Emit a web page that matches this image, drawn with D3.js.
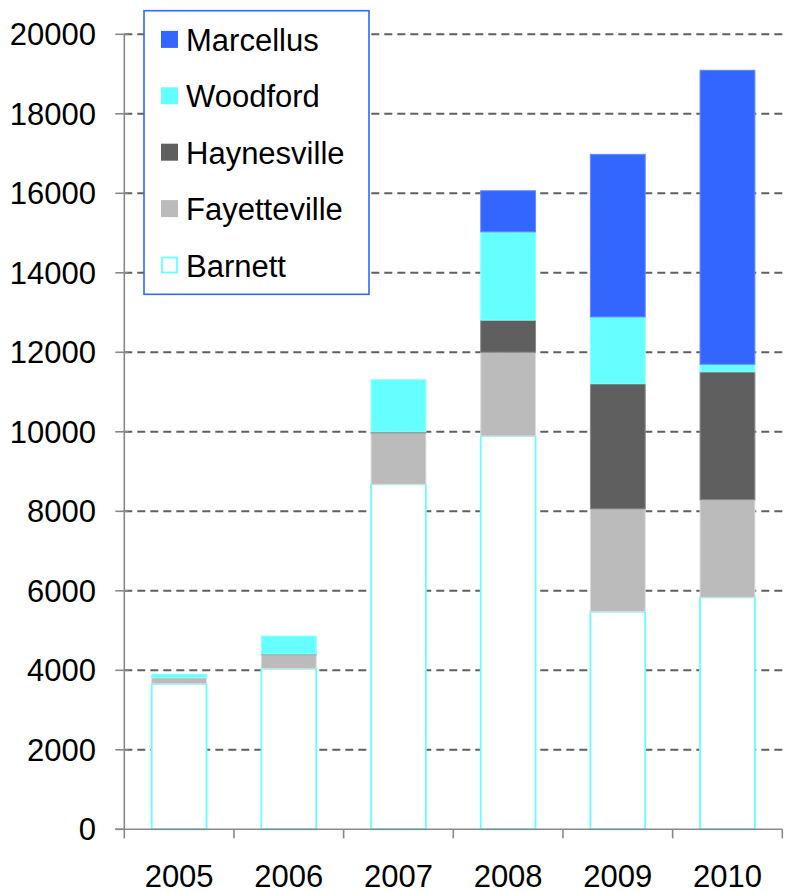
<!DOCTYPE html>
<html><head><meta charset="utf-8">
<script src="https://cdn.jsdelivr.net/npm/d3@7"></script>
<style>html,body{margin:0;padding:0;background:#fff}svg{display:block}</style>
</head><body>
<script>
const years = ["2005","2006","2007","2008","2009","2010"];
const seriesNames = ["Barnett","Fayetteville","Haynesville","Woodford","Marcellus"];
const barnett      = [3660, 4040, 8680, 9895, 5475, 5835];
const fayetteville = [155, 350, 1290, 2105, 2585, 2455];
const haynesville  = [0, 20, 30, 810, 3150, 3220];
const woodford     = [85, 450, 1310, 2220, 1680, 190];
const marcellus    = [0, 0, 0, 1035, 4090, 7395];
const yTicks = [0,2000,4000,6000,8000,10000,12000,14000,16000,18000,20000];

const seriesValues = {Barnett: barnett, Fayetteville: fayetteville, Haynesville: haynesville, Woodford: woodford, Marcellus: marcellus};
const fills = {Barnett:"#ffffff", Fayetteville:"#bbbbbb", Haynesville:"#5f5f5f", Woodford:"#66ffff", Marcellus:"#3366ff"};
const strokes = {Barnett:"#66ffff", Fayetteville:"#dcdcdc", Haynesville:"#8a8a8a", Woodford:"#8cffff", Marcellus:"#6688ff"};
const strokeW = {Barnett:1.8, Fayetteville:1, Haynesville:1, Woodford:1, Marcellus:1};

const W = 788, H = 893;
const x0 = 124.3, x1 = 782.3, yBase = 829.3, yTop = 34.3;
const font = "Arial, 'Liberation Sans', sans-serif";
const fs = 31;

const svg = d3.select("body").append("svg").attr("width", W).attr("height", H);

const x = d3.scaleBand().domain(years).range([x0, x1]).paddingInner(0.5).paddingOuter(0.25);
const y = d3.scaleLinear().domain([0, 20000]).range([yBase, yTop]);

// gridlines
svg.append("g").selectAll("line").data(yTicks.filter(d => d > 0)).join("line")
  .attr("x1", x0).attr("x2", x1)
  .attr("y1", d => y(d)).attr("y2", d => y(d))
  .attr("stroke", "#606060").attr("stroke-width", 2).attr("stroke-dasharray", "8,5");

// stacked bars
const table = years.map((yr, i) => {
  const o = {year: yr};
  seriesNames.forEach(s => o[s] = seriesValues[s][i]);
  return o;
});
const stacked = d3.stack().keys(seriesNames)(table);
svg.append("g").selectAll("g").data(stacked).join("g")
  .each(function(layer) {
    const k = layer.key;
    d3.select(this).selectAll("rect").data(layer.filter(d => d[1] - d[0] > 0)).join("rect")
      .attr("x", d => x(d.data.year))
      .attr("width", x.bandwidth())
      .attr("y", d => y(d[1]))
      .attr("height", d => y(d[0]) - y(d[1]))
      .attr("fill", fills[k])
      .attr("stroke", strokes[k])
      .attr("stroke-width", strokeW[k]);
  });

// y axis
const axisColor = "#888888";
svg.append("line").attr("x1", x0).attr("x2", x0).attr("y1", yTop).attr("y2", yBase)
  .attr("stroke", axisColor).attr("stroke-width", 1.6);
svg.append("g").selectAll("line").data(yTicks).join("line")
  .attr("x1", x0 - 9).attr("x2", d => d === 0 ? x0 : x0 + 4)
  .attr("y1", d => y(d)).attr("y2", d => y(d))
  .attr("stroke", axisColor).attr("stroke-width", 1.6);
svg.append("g").selectAll("text").data(yTicks).join("text")
  .attr("x", 96).attr("y", d => y(d) + 11)
  .attr("text-anchor", "end")
  .attr("font-family", font).attr("font-size", fs).attr("fill", "#000")
  .text(d => d);

// x axis
svg.append("line").attr("x1", x0 - 9).attr("x2", x1).attr("y1", yBase).attr("y2", yBase)
  .attr("stroke", axisColor).attr("stroke-width", 1.6);
const step = x.step();
svg.append("g").selectAll("line").data(d3.range(years.length + 1)).join("line")
  .attr("x1", i => x0 + i * step).attr("x2", i => x0 + i * step)
  .attr("y1", yBase).attr("y2", yBase + 9)
  .attr("stroke", axisColor).attr("stroke-width", 1.6);
svg.append("g").selectAll("text").data(years).join("text")
  .attr("x", d => x(d) + x.bandwidth() / 2).attr("y", 887)
  .attr("text-anchor", "middle")
  .attr("font-family", font).attr("font-size", fs).attr("fill", "#000")
  .text(d => d);

// legend
const legendOrder = ["Marcellus","Woodford","Haynesville","Fayetteville","Barnett"];
const lg = svg.append("g");
lg.append("rect").attr("x", 144).attr("y", 10.7).attr("width", 225).attr("height", 283.6)
  .attr("fill", "#fff").attr("stroke", "#3366ff").attr("stroke-width", 1.6);
const rows = lg.selectAll("g").data(legendOrder).join("g")
  .attr("transform", (d, i) => `translate(0, ${39.4 + i * 56.4})`);
rows.append("rect").attr("x", d => d === "Barnett" ? 162 : 161).attr("y", d => d === "Barnett" ? -7.5 : -8.5)
  .attr("width", d => d === "Barnett" ? 15 : 17).attr("height", d => d === "Barnett" ? 15 : 17)
  .attr("fill", d => fills[d])
  .attr("stroke", d => d === "Barnett" ? "#66ffff" : "none").attr("stroke-width", 1.8);
rows.append("text").attr("x", 186).attr("y", 11.6)
  .attr("font-family", font).attr("font-size", fs).attr("fill", "#000")
  .text(d => d);
</script>
</body></html>
